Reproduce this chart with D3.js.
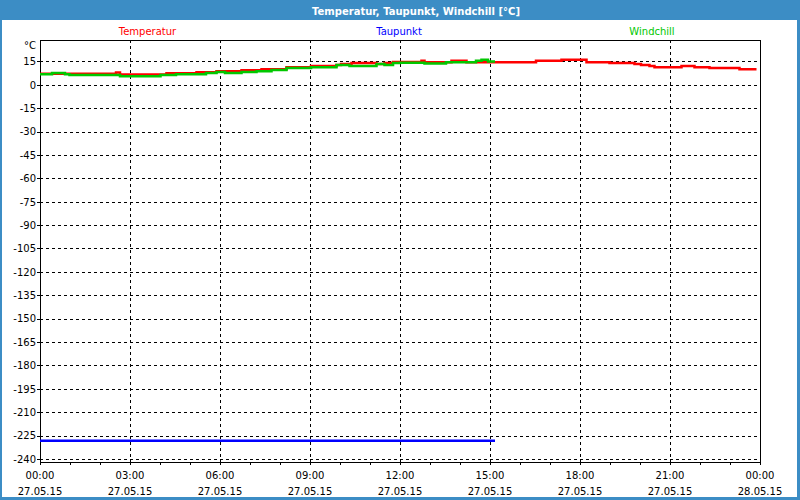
<!DOCTYPE html>
<html><head><meta charset="utf-8">
<script src="https://cdn.jsdelivr.net/npm/d3@7"></script>
<style>body{margin:0;background:#fff}svg{display:block}</style>
</head><body><svg id="c" width="800" height="500"></svg>
<script>
const chartTitle = "Temperatur, Taupunkt, Windchill [°C]";
const unitLabel = "°C";
const seriesNames = ["Temperatur", "Taupunkt", "Windchill"];
const seriesColors = ["#ff0000", "#0000ff", "#00c800"];
const yTickValues = [15, 0, -15, -30, -45, -60, -75, -90, -105, -120, -135, -150, -165, -180, -195, -210, -225, -240];
const xTickTimes = ["27.05.15 00:00", "27.05.15 03:00", "27.05.15 06:00", "27.05.15 09:00", "27.05.15 12:00", "27.05.15 15:00", "27.05.15 18:00", "27.05.15 21:00", "28.05.15 00:00"];
const xTickLabelTime = ["00:00", "03:00", "06:00", "09:00", "12:00", "15:00", "18:00", "21:00", "00:00"];
const xTickLabelDate = ["27.05.15", "27.05.15", "27.05.15", "27.05.15", "27.05.15", "27.05.15", "27.05.15", "27.05.15", "28.05.15"];

// Temperatur (27.05.15)
const tempTimes = ["00:00","02:32","02:40","04:13","05:13","05:53","06:43","07:23","08:13","09:02","09:53","10:02","10:23","11:13","11:29","11:46","12:43","12:49","13:43","14:13","16:32","17:23","18:13","18:59","19:49","20:02","20:19","20:29","21:23","21:49","22:19","23:19","23:53"];
const tempValues = [7.1,7.8,6.6,7.4,8.0,8.7,9.3,10.0,11.3,12.0,12.6,13.3,13.9,13.3,13.9,14.6,15.4,14.5,15.4,14.5,15.4,16.0,14.5,13.9,13.3,12.6,12.0,11.3,12.0,11.3,10.7,10.0,10.0];
// Taupunkt
const dewTimes = ["00:00","15:10"];
const dewValues = [-228.3,-228.3];
// Windchill
const windTimes = ["00:00","00:24","00:50","00:59","02:40","04:01","04:32","05:32","05:53","06:10","06:43","07:13","07:43","08:13","09:02","09:53","10:19","11:13","11:29","11:46","12:00","12:49","13:32","14:32","14:43","14:56","15:10"];
const windValues = [6.8,7.5,6.8,6.2,5.5,6.2,6.8,7.5,8.1,7.5,8.1,8.7,9.4,10.7,11.3,12.6,12.0,13.3,12.6,13.9,14.1,13.7,14.5,15.4,16.0,14.9,14.9];

const W = 800, H = 500;
const pLeft = 40, pRight = 760, pTop = 40, pBottom = 461.5;
const font = "'DejaVu Sans', Verdana, sans-serif";
const parse = d3.timeParse("%d.%m.%y %H:%M");
const day = "27.05.15 ";

const svg = d3.select("#c");
svg.append("rect").attr("width", W).attr("height", H).attr("fill", "#3c8dc5");
svg.append("rect").attr("x", 2).attr("y", 20).attr("width", 795).attr("height", 477).attr("fill", "#ffffff");

svg.append("text").attr("x", 416).attr("y", 14.5).attr("text-anchor", "middle")
  .attr("fill", "#fff").attr("font-family", font).attr("font-weight", "bold").attr("font-size", 11)
  .attr("textLength", 208).attr("lengthAdjust", "spacingAndGlyphs").text(chartTitle);

const x = d3.scaleTime().domain([parse(xTickTimes[0]), parse(xTickTimes[xTickTimes.length - 1])]).range([pLeft, pRight]);
const y = d3.scaleLinear().domain([-241.6, 28.7]).range([pBottom, pTop]);

// legend
const legendX = [147.5, 399, 652];
seriesNames.forEach((n, i) => {
  svg.append("text").attr("x", legendX[i]).attr("y", 35).attr("text-anchor", "middle")
    .attr("font-family", font).attr("font-size", 10).attr("fill", seriesColors[i]).text(n);
});

// grid
const g = svg.append("g").attr("shape-rendering", "crispEdges");
g.selectAll(".hg").data(yTickValues).join("line")
  .attr("x1", pLeft).attr("x2", pRight)
  .attr("y1", d => Math.round(y(d)) + 0.5).attr("y2", d => Math.round(y(d)) + 0.5)
  .attr("stroke", "#000").attr("stroke-dasharray", "3,3");
g.selectAll(".vg").data(xTickTimes.slice(1, -1)).join("line")
  .attr("x1", d => Math.round(x(parse(d))) + 0.5).attr("x2", d => Math.round(x(parse(d))) + 0.5)
  .attr("y1", pTop).attr("y2", pBottom)
  .attr("stroke", "#000").attr("stroke-dasharray", "3,3");

// frame
g.append("line").attr("x1", pLeft + 0.5).attr("x2", pLeft + 0.5).attr("y1", pTop).attr("y2", pBottom + 1).attr("stroke", "#000");
g.append("line").attr("x1", pLeft).attr("x2", pRight + 1).attr("y1", pTop + 0.5).attr("y2", pTop + 0.5).attr("stroke", "#000");
g.append("line").attr("x1", pRight + 0.5).attr("x2", pRight + 0.5).attr("y1", pTop).attr("y2", pBottom + 1).attr("stroke", "#000");

// x axis
const xAxis = d3.axisBottom(x).ticks(d3.timeHour.every(1)).tickSize(3).tickFormat("").tickSizeOuter(0);
const xa = svg.append("g").attr("transform", `translate(0,${Math.round(pBottom)})`).attr("shape-rendering", "crispEdges").call(xAxis);
xa.select(".domain").attr("stroke", "#000");
xa.selectAll(".tick line").attr("stroke", "#000");

// y axis ticks
const yAxis = d3.axisLeft(y).tickValues(yTickValues).tickSize(3).tickFormat("").tickSizeOuter(0);
const ya = svg.append("g").attr("transform", `translate(${pLeft},0)`).attr("shape-rendering", "crispEdges").call(yAxis);
ya.select(".domain").remove();
ya.selectAll(".tick line").attr("stroke", "#000");

// y labels
svg.selectAll(".yl").data(yTickValues).join("text")
  .attr("x", 36).attr("y", d => y(d) + 3.8).attr("text-anchor", "end")
  .attr("font-family", font).attr("font-size", 10).attr("fill", "#000").text(d => d);
svg.append("text").attr("x", 36).attr("y", 49).attr("text-anchor", "end")
  .attr("font-family", font).attr("font-size", 10).attr("fill", "#000").text(unitLabel);

// x labels
xTickTimes.forEach((t, i) => {
  const px = x(parse(t));
  svg.append("text").attr("x", px).attr("y", 478.5).attr("text-anchor", "middle")
    .attr("font-family", font).attr("font-size", 10).attr("fill", "#000").text(xTickLabelTime[i]);
  svg.append("text").attr("x", px).attr("y", 494.5).attr("text-anchor", "middle")
    .attr("font-family", font).attr("font-size", 10).attr("fill", "#000").text(xTickLabelDate[i]);
});

// series
const line = d3.line().x(d => x(d[0])).y(d => y(d[1])).curve(d3.curveStepAfter);
const toData = (times, vals) => times.map((t, i) => [parse(day + t), vals[i]]);
const series = [toData(tempTimes, tempValues), toData(dewTimes, dewValues), toData(windTimes, windValues)];
series.forEach((s, i) => {
  svg.append("path").datum(s).attr("d", line).attr("fill", "none")
    .attr("stroke", seriesColors[i]).attr("stroke-width", 2.5).attr("stroke-linejoin", "miter");
});
</script></body></html>
